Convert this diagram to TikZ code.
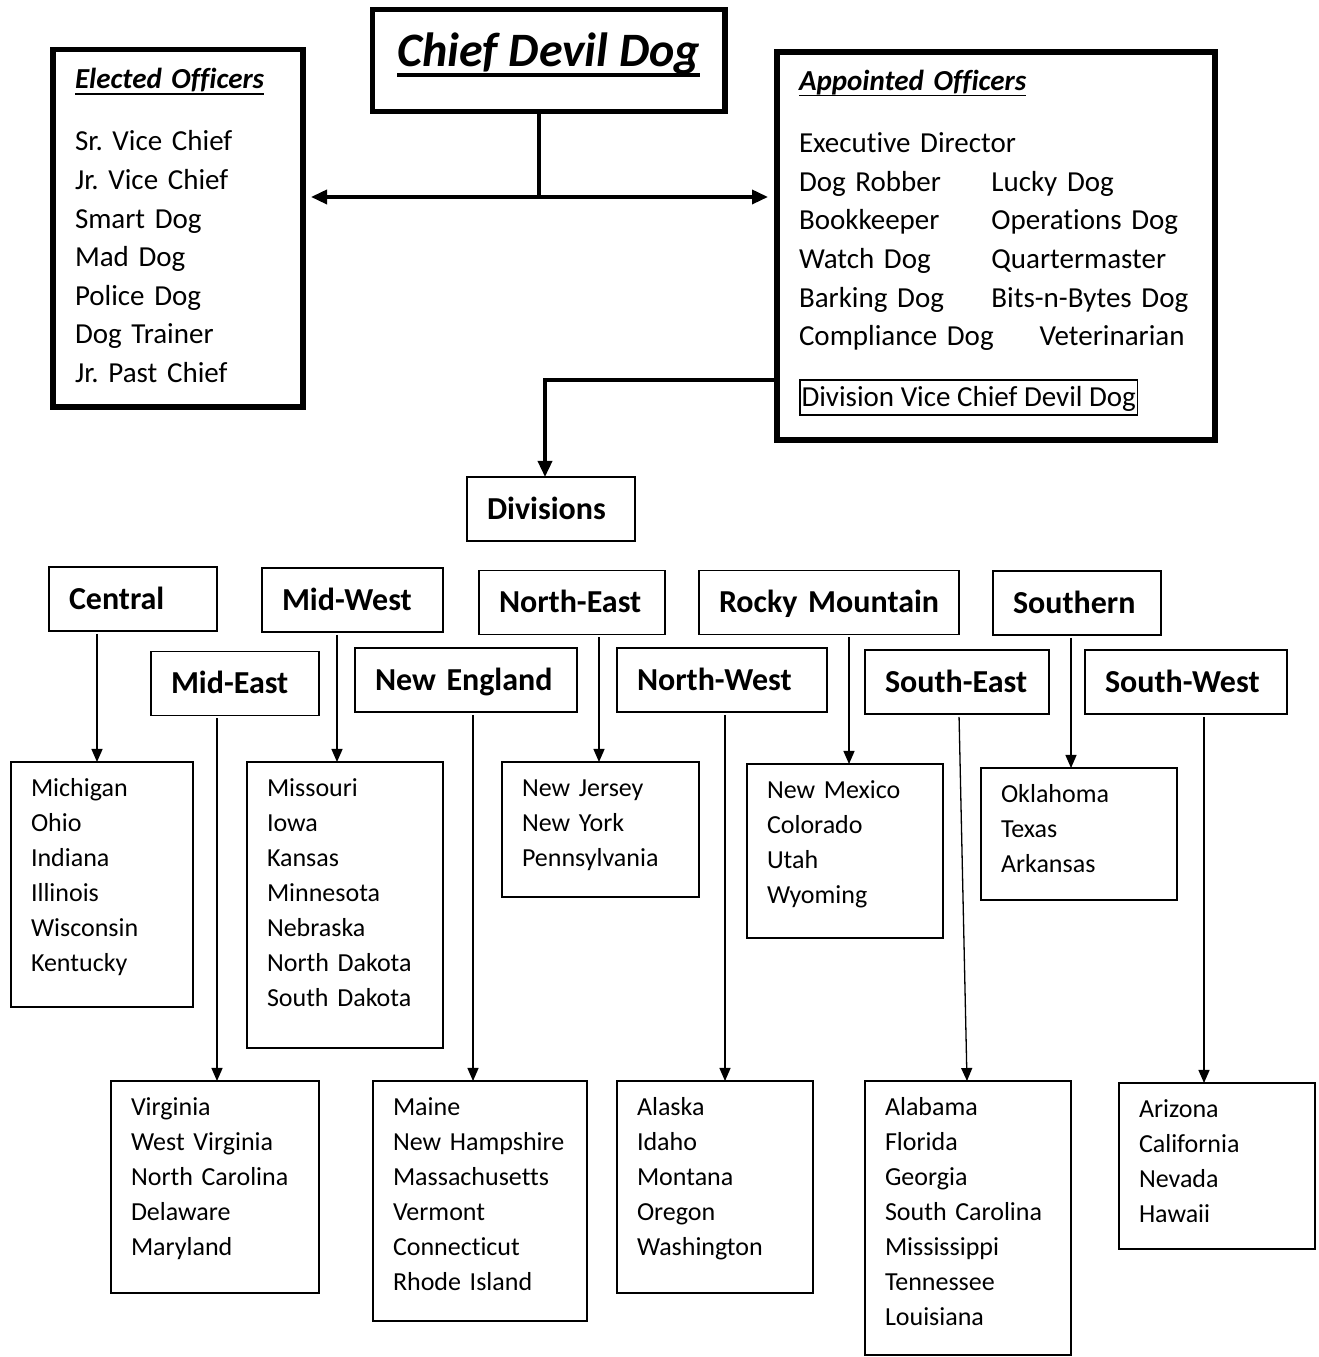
\documentclass[tikz,border=0pt]{standalone}
\usepackage{fontspec}
\setmainfont{Carlito}[Ligatures=NoCommon]
\usetikzlibrary{arrows.meta}
\frenchspacing
\hyphenpenalty=10000
\exhyphenpenalty=10000
\newcommand\ulinetitle[1]{\setbox0=\hbox{#1}\rlap{\rule[-0.2em]{\wd0}{0.065em}}\box0}

\begin{document}
\begin{tikzpicture}[>={Triangle[length=16bp,width=14bp]},outer sep=0pt,
  chiefbox/.style={draw,line width=5.5bp,inner sep=0pt,minimum width=352.5bp,
    text height=57.5bp,text depth=44.5bp,font=\fontsize{48bp}{52bp}\selectfont\bfseries\itshape},
  officebox/.style={draw,line width=5.5bp,anchor=north west,align=left,inner xsep=22bp,inner ysep=0pt,
    font=\fontsize{29bp}{38.6bp}\selectfont},
  divhead/.style={draw,line width=1.5bp,align=left,inner xsep=20bp,inner ysep=0pt,
    text width=#1,text height=20.5bp,text depth=0pt,minimum height=64bp,
    font=\fontsize{32bp}{38bp}\selectfont\bfseries},
  statebox/.style={draw,line width=1.5bp,anchor=north west,align=left,inner xsep=20bp,inner ysep=0pt,
    text height=35bp,font=\fontsize{26bp}{35bp}\selectfont},
  conn/.style={->,line width=1.3bp,shorten <=3bp,>={Triangle[length=13bp,width=11bp]}}]
  \useasboundingbox (0,0) rectangle (1319bp,1357bp);
%%
  % Node: chief
  \node (chief) [chiefbox] at (548.75bp,1296.5bp) {\ulinetitle{Chief Devil Dog}};
  % Node: elected
  \node (elected) [officebox,text width=206bp,text height=39.5bp,text depth=318bp] at (53bp,1307.5bp)
    {\ulinetitle{\bfseries\itshape Elected Officers}\\[23.4bp]
     Sr. Vice Chief\\ Jr. Vice Chief\\ Smart Dog\\ Mad Dog\\ Police Dog\\ Dog Trainer\\ Jr. Past Chief};
  % Node: appointed
  \node (appointed) [officebox,text width=394bp,text height=38.7bp,text depth=349.3bp] at (777bp,1305bp)
    {\ulinetitle{\bfseries\itshape Appointed Officers}\\[23.4bp]
     Executive Director\\
     \makebox[192.4bp][l]{Dog Robber}Lucky Dog\\
     \makebox[192.4bp][l]{Bookkeeper}Operations Dog\\
     \makebox[192.4bp][l]{Watch Dog}Quartermaster\\
     \makebox[192.4bp][l]{Barking Dog}Bits-n-Bytes Dog\\
     \makebox[240.7bp][l]{Compliance Dog}Veterinarian};
  % Node: dvcdd
  \node (dvcdd) [draw,line width=1.5bp,anchor=north west,inner xsep=1.5bp,inner ysep=0pt,
    text height=26.7bp,text depth=8.3bp,font=\fontsize{29bp}{35bp}\selectfont] at (800bp,977bp)
    {Division Vice Chief Devil Dog};
  % Node: divisions
  \node (divisions) [divhead=128bp] at (551bp,848bp) {Divisions};
%%
  % Edge: chief -> elected, appointed
  \coordinate (fork) at ([xshift=-10bp,yshift=-85.5bp]chief.south);
  \draw [line width=3.5bp] ([xshift=-10bp]chief.south) -- (fork);
  \draw [<->,line width=3.5bp,shorten <=8bp,shorten >=9bp] (fork -| elected.east) -- (fork -| appointed.west);
  % Edge: appointed -> divisions
  \draw [->,line width=3.5bp] (appointed.west |- dvcdd.north) -| ([xshift=-6bp]divisions.north);
%%
  % Node: division heads
  \node (central)     [divhead=128bp] at (133bp,758bp)    {Central};
  \node (midwest)     [divhead=141bp] at (352.5bp,757bp)  {Mid-West};
  \node (northeast)   [divhead=146bp] at (572bp,754.5bp)  {North-East};
  \node (rocky)       [divhead=220bp] at (829bp,754.5bp)  {Rocky~Mountain};
  \node (southern)    [divhead=128bp] at (1077bp,754bp)   {Southern};
  \node (mideast)     [divhead=128bp] at (235bp,673.5bp)  {Mid-East};
  \node (newengland)  [divhead=182bp] at (466bp,677bp)    {New~England};
  \node (northwest)   [divhead=170bp] at (722bp,677bp)    {North-West};
  \node (southeast)   [divhead=144bp] at (957bp,675bp)    {South-East};
  \node (southwest)   [divhead=162bp] at (1186bp,675bp)   {South-West};
%%
  % Node: state lists
  \node (central_states) [statebox,text width=142bp,text depth=210bp] at (11bp,595bp)
    {Michigan\\ Ohio\\ Indiana\\ Illinois\\ Wisconsin\\ Kentucky};
  \node (midwest_states) [statebox,text width=156bp,text depth=251bp] at (247bp,595bp)
    {Missouri\\ Iowa\\ Kansas\\ Minnesota\\ Nebraska\\ North Dakota\\ South Dakota};
  \node (northeast_states) [statebox,text width=157bp,text depth=100bp] at (502bp,595bp)
    {New Jersey\\ New York\\ Pennsylvania};
  \node (rocky_states) [statebox,text width=156bp,text depth=139bp] at (747bp,593bp)
    {New Mexico\\ Colorado\\ Utah\\ Wyoming};
  \node (southern_states) [statebox,text width=156bp,text depth=97bp] at (981bp,589bp)
    {Oklahoma\\ Texas\\ Arkansas};
  \node (mideast_states) [statebox,text width=168bp,text depth=177bp] at (111bp,276bp)
    {Virginia\\ West Virginia\\ North Carolina\\ Delaware\\ Maryland};
  \node (newengland_states) [statebox,text width=174bp,text depth=205bp] at (373bp,276bp)
    {Maine\\ New Hampshire\\ Massachusetts\\ Vermont\\ Connecticut\\ Rhode Island};
  \node (northwest_states) [statebox,text width=156bp,text depth=177bp] at (617bp,276bp)
    {Alaska\\ Idaho\\ Montana\\ Oregon\\ Washington};
  \node (southeast_states) [statebox,text width=166bp,text depth=239bp] at (865bp,276bp)
    {Alabama\\ Florida\\ Georgia\\ South Carolina\\ Mississippi\\ Tennessee\\ Louisiana};
  \node (southwest_states) [statebox,text width=156bp,text depth=131bp] at (1119bp,274bp)
    {Arizona\\ California\\ Nevada\\ Hawaii};
%%
  % Edge: central -> central_states
  \draw [conn] ([xshift=-36bp]central.south) -- ([xshift=-36bp]central.south |- central_states.north);
  % Edge: midwest -> midwest_states
  \draw [conn] ([xshift=-15.5bp]midwest.south) -- ([xshift=-15.5bp]midwest.south |- midwest_states.north);
  % Edge: northeast -> northeast_states
  \draw [conn] ([xshift=27bp]northeast.south) -- ([xshift=27bp]northeast.south |- northeast_states.north);
  % Edge: rocky -> rocky_states
  \draw [conn] ([xshift=20bp]rocky.south) -- ([xshift=20bp]rocky.south |- rocky_states.north);
  % Edge: southern -> southern_states
  \draw [conn] ([xshift=-6bp]southern.south) -- ([xshift=-6bp]southern.south |- southern_states.north);
  % Edge: mideast -> mideast_states
  \draw [conn] ([xshift=-18bp]mideast.south) -- ([xshift=-18bp]mideast.south |- mideast_states.north);
  % Edge: newengland -> newengland_states
  \draw [conn] ([xshift=7bp]newengland.south) -- ([xshift=7bp]newengland.south |- newengland_states.north);
  % Edge: northwest -> northwest_states
  \draw [conn] ([xshift=3bp]northwest.south) -- ([xshift=3bp]northwest.south |- northwest_states.north);
  % Edge: southeast -> southeast_states
  \draw [conn] ([xshift=2bp]southeast.south) -- ([xshift=-1bp]southeast_states.north);
  % Edge: southwest -> southwest_states
  \draw [conn] ([xshift=18bp]southwest.south) -- ([xshift=18bp]southwest.south |- southwest_states.north);
%
\end{tikzpicture}
\end{document}
